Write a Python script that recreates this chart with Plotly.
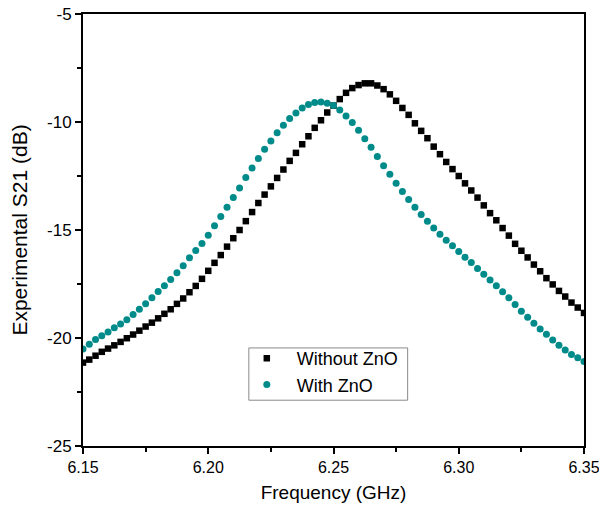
import numpy as np
import plotly.graph_objects as go

freq_start = 6.15
freq_step = 0.0025
n_points = 81
freq = [round(freq_start + i * freq_step, 4) for i in range(n_points)]

without_zno = [
    -21.14, -21.00, -20.82, -20.64, -20.49, -20.34, -20.18, -20.01, -19.84, -19.66,
    -19.47, -19.29, -19.09, -18.88, -18.67, -18.42, -18.17, -17.88, -17.59, -17.26,
    -16.89, -16.52, -16.16, -15.77, -15.38, -15.00, -14.59, -14.17, -13.75, -13.36,
    -12.98, -12.59, -12.20, -11.80, -11.43, -11.03, -10.66, -10.27, -9.92, -9.56,
    -9.24, -8.94, -8.65, -8.43, -8.29, -8.21, -8.21, -8.31, -8.48, -8.72,
    -9.02, -9.35, -9.67, -10.06, -10.41, -10.75, -11.14, -11.49, -11.85, -12.18,
    -12.50, -12.84, -13.17, -13.50, -13.86, -14.22, -14.55, -14.91, -15.26, -15.64,
    -15.96, -16.27, -16.60, -16.91, -17.23, -17.52, -17.82, -18.08, -18.36, -18.59,
    -18.84,
]

with_zno = [
    -20.51, -20.29, -20.07, -19.90, -19.72, -19.53, -19.35, -19.15, -18.91, -18.67,
    -18.42, -18.14, -17.85, -17.58, -17.29, -16.98, -16.66, -16.29, -15.95, -15.62,
    -15.24, -14.80, -14.38, -13.95, -13.50, -13.05, -12.57, -12.13, -11.69, -11.26,
    -10.88, -10.50, -10.15, -9.84, -9.58, -9.35, -9.19, -9.10, -9.07, -9.13,
    -9.24, -9.45, -9.72, -10.02, -10.38, -10.77, -11.17, -11.60, -12.02, -12.42,
    -12.84, -13.22, -13.59, -13.95, -14.28, -14.60, -14.91, -15.20, -15.47, -15.73,
    -15.99, -16.26, -16.50, -16.78, -17.05, -17.32, -17.58, -17.86, -18.14, -18.45,
    -18.76, -19.04, -19.32, -19.58, -19.83, -20.09, -20.34, -20.55, -20.76, -20.92,
    -21.09,
]

x_tickvals = [6.15, 6.20, 6.25, 6.30, 6.35]
x_ticktext = ["6.15", "6.20", "6.25", "6.30", "6.35"]
y_tickvals = [-25, -20, -15, -10, -5]
y_ticktext = ["-25", "-20", "-15", "-10", "-5"]

font_family = "Liberation Sans, Arial, sans-serif"

fig = go.Figure()
fig.add_trace(go.Scatter(
    x=freq, y=without_zno, mode="markers", name="Without ZnO",
    marker=dict(symbol="square", size=6.5, color="#000000"),
))
fig.add_trace(go.Scatter(
    x=freq, y=with_zno, mode="markers", name="With ZnO",
    marker=dict(symbol="circle", size=7, color="#008B8B"),
))

axis_common = dict(
    showline=True, linecolor="#000000", linewidth=2, mirror=True,
    ticks="outside", ticklen=6, tickwidth=1.5, tickcolor="#000000",
    showgrid=False, zeroline=False, automargin=False,
    ticklabeloverflow="allow",
)

# legend frame (paper coordinates)
fig.add_shape(
    type="rect", xref="paper", yref="paper",
    x0=0.331, x1=0.648, y0=0.106, y1=0.227,
    line=dict(color="#8a8a8a", width=1), fillcolor="white", layer="above",
)

fig.update_layout(
    width=599, height=506,
    margin=dict(l=83, r=15, t=14, b=60),
    paper_bgcolor="white", plot_bgcolor="white",
    font=dict(family=font_family, color="#000000"),
    showlegend=True,
    legend=dict(
        x=0.307, y=0.2454, xanchor="left", yanchor="top",
        borderwidth=0, bgcolor="rgba(0,0,0,0)",
        font=dict(family=font_family, size=18, color="#000000"),
        itemsizing="trace", itemwidth=50, tracegroupgap=0,
    ),
    xaxis=dict(
        range=[6.1499999, 6.3500001], tickvals=x_tickvals, ticktext=x_ticktext,
        tickfont=dict(family=font_family, size=16, color="#000000"),
        minor=dict(ticks="outside", ticklen=4, tickwidth=1.5, tickcolor="#000000", dtick=0.025, tick0=6.15),
        title=dict(text="Frequency (GHz)", font=dict(family=font_family, size=19, color="#000000"), standoff=10),
        **axis_common,
    ),
    yaxis=dict(
        range=[-25, -5], tickvals=y_tickvals, ticktext=y_ticktext,
        tickfont=dict(family=font_family, size=17, color="#000000"),
        minor=dict(ticks="outside", ticklen=4, tickwidth=1.5, tickcolor="#000000", dtick=2.5, tick0=-25),
        title=dict(text="Experimental S21 (dB)", font=dict(family=font_family, size=21, color="#000000"), standoff=14),
        **axis_common,
    ),
)

fig.write_html(
    "out.html",
    config={"displayModeBar": False},
    post_script="document.body.style.margin='0';document.body.style.padding='0';",
)
